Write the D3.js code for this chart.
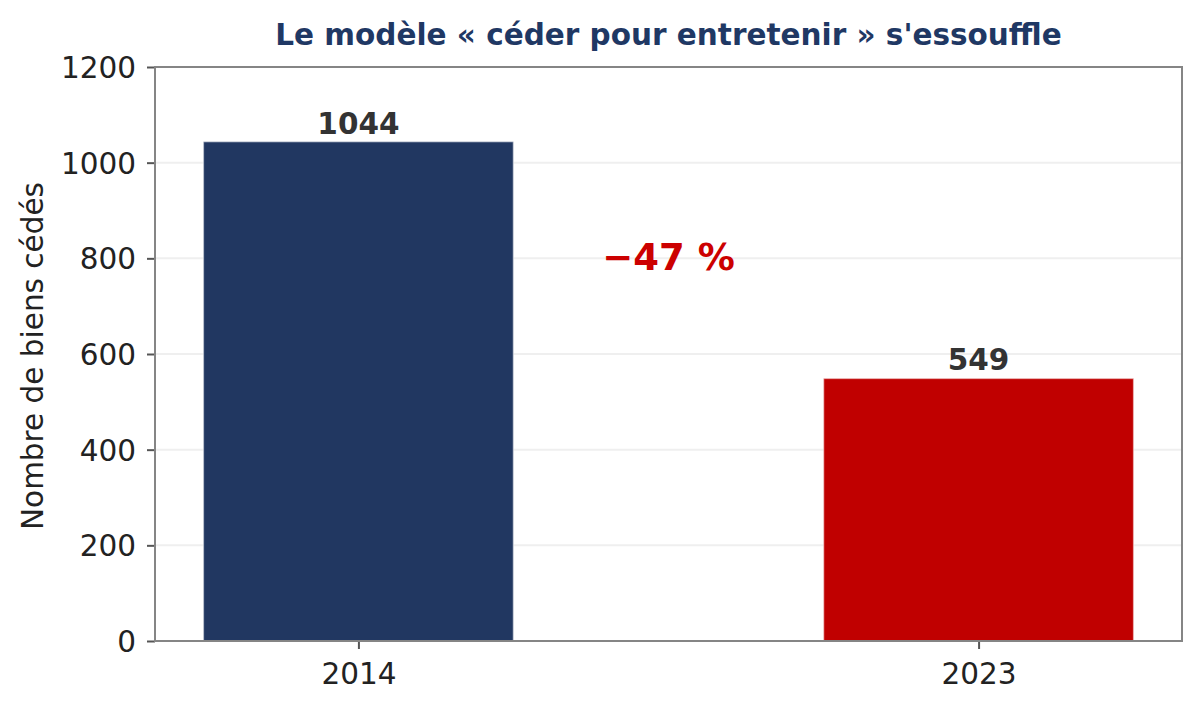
<!DOCTYPE html>
<html>
<head>
<meta charset="utf-8">
<script src="https://cdn.jsdelivr.net/npm/d3@7"></script>
<style>
  body { margin: 0; background: #fff; }
  text { font-family: "DejaVu Sans", sans-serif; }
</style>
</head>
<body>
<script>
// data
const years = ["2014", "2023"];
const counts = [1044, 549];
const barColors = ["#213761", "#c00000"];
const yTicks = [0, 200, 400, 600, 800, 1000, 1200];
const titleText = "Le modèle « céder pour entretenir » s'essouffle";
const yLabel = "Nombre de biens cédés";
const changeLabel = "\u221247 %";

function makeChart() {
    const width = 1200;
    const height = 712;
    const marginTop = 67;
    const marginRight = 18;
    const marginBottom = 71;
    const marginLeft = 155;

    const x = d3.scalePoint()
        .domain(years)
        .range([marginLeft, width - marginRight])
        .padding(0.328);
    const barWidth = x.step() * 0.5;

    const y = d3.scaleLinear()
        .domain([0, 1200])
        .range([height - marginBottom, marginTop]);

    const svg = d3.create("svg")
        .attr("width", width)
        .attr("height", height)
        .attr("viewBox", [0, 0, width, height]);

    document.body.appendChild(svg.node());

    // grid lines
    svg.append("g")
        .attr("stroke", "#efefef")
        .attr("stroke-width", 2)
        .selectAll()
        .data(yTicks.filter(d => d > 0))
        .join("line")
        .attr("x1", marginLeft)
        .attr("x2", width - marginRight)
        .attr("y1", d => y(d))
        .attr("y2", d => y(d));

    // bars
    svg.append("g")
        .selectAll()
        .data(counts)
        .join("rect")
        .attr("x", (d, i) => x(years[i]) - barWidth / 2)
        .attr("y", d => y(d))
        .attr("width", barWidth)
        .attr("height", d => y(0) - y(d))
        .attr("fill", (d, i) => barColors[i])
        .attr("stroke", "#ffffff")
        .attr("stroke-opacity", 0.5)
        .attr("stroke-width", 1.5);

    // value labels
    svg.append("g")
        .selectAll()
        .data(counts)
        .join("text")
        .attr("x", (d, i) => x(years[i]))
        .attr("y", d => y(d) - 8)
        .attr("text-anchor", "middle")
        .attr("font-size", 29.5)
        .attr("font-weight", "bold")
        .attr("fill", "#333333")
        .text(d => d);

    // change annotation
    svg.append("text")
        .attr("x", (x(years[0]) + x(years[1])) / 2)
        .attr("y", y(800) + 12)
        .attr("text-anchor", "middle")
        .attr("font-size", 37)
        .attr("font-weight", "bold")
        .attr("fill", "#cc0000")
        .text(changeLabel);

    // y axis
    svg.append("g")
        .attr("transform", `translate(${marginLeft},0)`)
        .call(d3.axisLeft(y).tickValues(yTicks).tickFormat(d3.format("d"))
            .tickSize(8).tickPadding(11).tickSizeOuter(0))
        .call(g => g.select(".domain").remove())
        .call(g => g.selectAll(".tick line").attr("stroke", "#555").attr("stroke-width", 2))
        .call(g => g.selectAll(".tick text")
            .attr("font-size", 29.5)
            .attr("fill", "#222")
            .attr("dy", "0.36em"));

    // x axis
    svg.append("g")
        .attr("transform", `translate(0,${height - marginBottom})`)
        .call(d3.axisBottom(x).tickSize(8).tickPadding(14).tickSizeOuter(0))
        .call(g => g.select(".domain").remove())
        .call(g => g.selectAll(".tick line").attr("stroke", "#555").attr("stroke-width", 2))
        .call(g => g.selectAll(".tick text")
            .attr("font-size", 29.5)
            .attr("fill", "#222"));

    // frame
    svg.append("rect")
        .attr("x", marginLeft)
        .attr("y", marginTop)
        .attr("width", width - marginRight - marginLeft)
        .attr("height", height - marginBottom - marginTop)
        .attr("fill", "none")
        .attr("stroke", "#858585")
        .attr("stroke-width", 2);

    // y label
    svg.append("text")
        .attr("transform", `translate(43,${(marginTop + height - marginBottom) / 2 + 2}) rotate(-90)`)
        .attr("text-anchor", "middle")
        .attr("font-size", 29.5)
        .attr("fill", "#222")
        .text(yLabel);

    // title
    svg.append("text")
        .attr("x", (marginLeft + width - marginRight) / 2)
        .attr("y", 45)
        .attr("text-anchor", "middle")
        .attr("font-size", 29.5)
        .attr("font-weight", "bold")
        .attr("fill", "#1f3864")
        .text(titleText);

    return svg.node();
}

makeChart();
</script>
</body>
</html>
